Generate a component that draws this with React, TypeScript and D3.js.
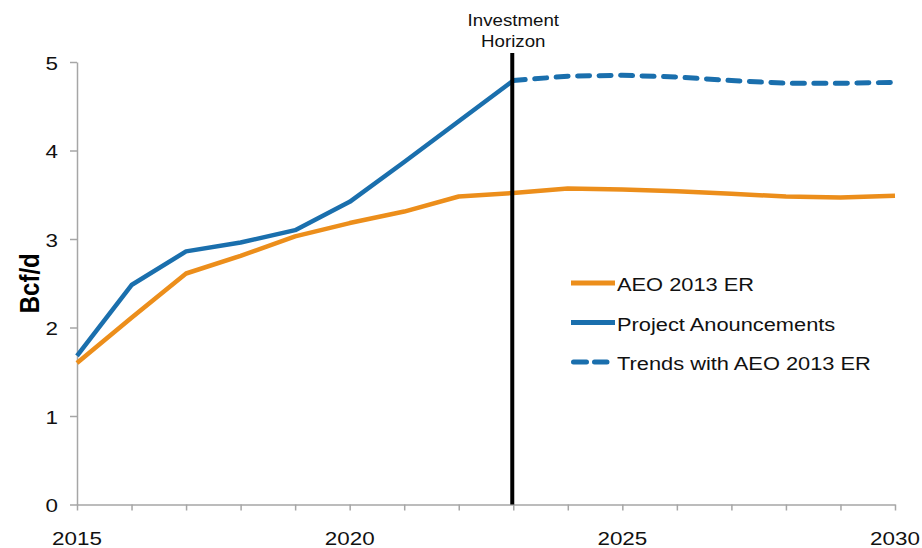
import * as d3 from "d3";
import React, { useRef, useEffect } from "react";

const years = [2015, 2016, 2017, 2018, 2019, 2020, 2021, 2022, 2023, 2024, 2025, 2026, 2027, 2028, 2029, 2030];
const aeoValues = [1.6, 2.11, 2.61, 2.81, 3.03, 3.18, 3.31, 3.48, 3.52, 3.57, 3.56, 3.54, 3.51, 3.48, 3.47, 3.49];
const projectYears = [2015, 2016, 2017, 2018, 2019, 2020, 2021, 2022, 2023];
const projectValues = [1.68, 2.48, 2.86, 2.96, 3.1, 3.42, 3.87, 4.33, 4.79];
const trendYears = [2023, 2024, 2025, 2026, 2027, 2028, 2029, 2030];
const trendValues = [4.79, 4.84, 4.85, 4.83, 4.79, 4.76, 4.76, 4.77];
const yTicks = [0, 1, 2, 3, 4, 5];
const xLabels = [2015, 2020, 2025, 2030];
const horizonYear = 2023;

const ORANGE = "#EC8E1B";
const BLUE = "#1A6FAD";
const AXIS = "#a6a6a6";
const FONT = "'Liberation Sans', Arial, sans-serif";
const SX = 1.18; // the source image is a bit stretched sideways

export default function App() {
  const svgRef = useRef<SVGSVGElement | null>(null);

  useEffect(() => {
    if (!svgRef.current) return;
    const svg = d3.select(svgRef.current);
    svg.selectAll("*").remove();

    const margin = { left: 77, right: 27, top: 62, bottom: 43.5 };
    const W = 922;
    const H = 548;

    const x = d3.scaleLinear().domain([2015, 2030]).range([margin.left, W - margin.right]);
    const y = d3.scaleLinear().domain([0, 5]).range([H - margin.bottom, margin.top]);

    // helper for stretched text
    const label = (
      g: d3.Selection<SVGGElement, unknown, null, undefined>,
      px: number,
      py: number,
      txt: string,
      anchor: string,
      size: number,
      sx = SX,
    ) =>
      g
        .append("text")
        .attr("transform", `translate(${px},${py}) scale(${sx},1)`)
        .attr("text-anchor", anchor)
        .attr("font-family", FONT)
        .attr("font-size", size)
        .attr("fill", "#111")
        .text(txt);

    // y axis
    const yAxis = svg
      .append("g")
      .attr("transform", `translate(${margin.left},0)`)
      .call(d3.axisLeft(y).tickValues(yTicks).tickSize(7).tickSizeOuter(0).tickFormat(() => ""));
    yAxis.select(".domain").attr("stroke", AXIS).attr("stroke-width", 1.5);
    yAxis.selectAll("line").attr("stroke", AXIS).attr("stroke-width", 1.5);

    // x axis
    const xAxis = svg
      .append("g")
      .attr("transform", `translate(0,${y(0)})`)
      .call(d3.axisBottom(x).tickValues(years).tickSize(6).tickSizeOuter(0).tickFormat(() => ""));
    xAxis.select(".domain").attr("stroke", AXIS).attr("stroke-width", 1.5);
    xAxis.selectAll("line").attr("stroke", AXIS).attr("stroke-width", 1.5);

    const labels = svg.append("g");
    yTicks.forEach((t) => label(labels, 58, y(t) + 7.5, String(t), "end", 19));
    xLabels.forEach((t) => label(labels, x(t), 545, String(t), "middle", 19));

    // axis title
    svg
      .append("text")
      .attr("transform", `translate(39,${(y(0) + y(5)) / 2}) rotate(-90) scale(1,${SX})`)
      .attr("text-anchor", "middle")
      .attr("font-family", FONT)
      .attr("font-size", 24)
      .attr("font-weight", "bold")
      .attr("fill", "#000")
      .text("Bcf/d");

    const line = d3
      .line<[number, number]>()
      .x((d) => x(d[0]))
      .y((d) => y(d[1]));

    svg
      .append("path")
      .datum(years.map((yr, i) => [yr, aeoValues[i]] as [number, number]))
      .attr("d", line)
      .attr("fill", "none")
      .attr("stroke", ORANGE)
      .attr("stroke-width", 4.5)
      .attr("stroke-linejoin", "round");

    svg
      .append("path")
      .datum(projectYears.map((yr, i) => [yr, projectValues[i]] as [number, number]))
      .attr("d", line)
      .attr("fill", "none")
      .attr("stroke", BLUE)
      .attr("stroke-width", 4.5)
      .attr("stroke-linejoin", "round");

    svg
      .append("path")
      .datum(trendYears.map((yr, i) => [yr, trendValues[i]] as [number, number]))
      .attr("d", line)
      .attr("fill", "none")
      .attr("stroke", BLUE)
      .attr("stroke-width", 5)
      .attr("stroke-linecap", "round")
      .attr("stroke-dasharray", "12 9.5");

    // investment horizon
    svg
      .append("line")
      .attr("x1", x(horizonYear) - 1)
      .attr("x2", x(horizonYear) - 1)
      .attr("y1", 53)
      .attr("y2", y(0))
      .attr("stroke", "#000")
      .attr("stroke-width", 4);

    const hz = svg.append("g");
    label(hz, x(horizonYear), 26, "Investment", "middle", 17, 1.1);
    label(hz, x(horizonYear), 47, "Horizon", "middle", 17, 1.1);

    // legend
    const legendItems = [
      { label: "AEO 2013 ER", color: ORANGE, dash: null as string | null },
      { label: "Project Anouncements", color: BLUE, dash: null },
      { label: "Trends with AEO 2013 ER", color: BLUE, dash: "13 8" },
    ];
    const legend = svg.append("g").attr("transform", "translate(571,283)");
    legendItems.forEach((item, i) => {
      const row = legend.append("g").attr("transform", `translate(0,${i * 39.5})`);
      row
        .append("line")
        .attr("x1", item.dash ? 2.5 : 0)
        .attr("x2", item.dash ? 36 : 44)
        .attr("y1", 0)
        .attr("y2", 0)
        .attr("stroke", item.color)
        .attr("stroke-width", 5)
        .attr("stroke-linecap", item.dash ? "round" : "butt")
        .attr("stroke-dasharray", item.dash ?? null);
      label(row as any, 46, 8, item.label, "start", 18.5);
    });
  }, []);

  return (
    <svg
      ref={svgRef}
      width={922}
      height={548}
      style={{ position: "absolute", left: 0, top: 0, background: "#fff" }}
    />
  );
}
